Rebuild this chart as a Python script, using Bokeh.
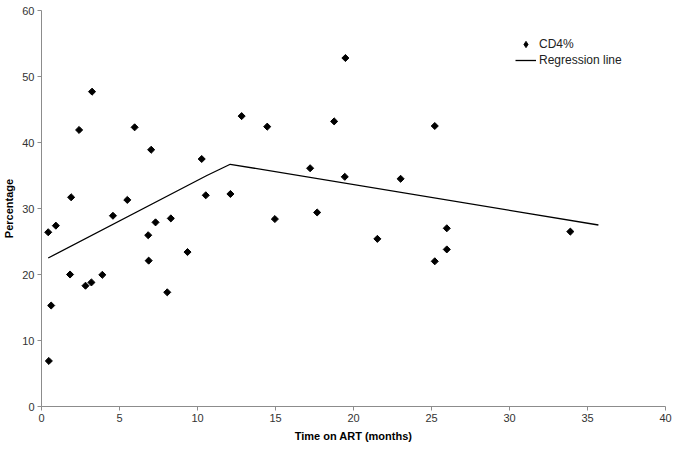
import math
from bokeh.plotting import figure
from bokeh.models import Range1d, FixedTicker, Legend, LegendItem
from bokeh.embed import file_html
from bokeh.resources import INLINE

# CD4% observations (time on ART in months, percentage)
time_months = [0.43, 0.92, 0.62, 0.47, 1.83, 2.82, 3.20, 3.90, 4.58, 5.50,
               6.84, 6.87, 7.31, 8.29, 8.06, 9.36, 1.90, 2.41, 3.24, 5.97,
               7.03, 10.27, 10.53, 12.11, 12.83, 14.47, 14.96, 17.22, 17.67, 18.76,
               19.48, 19.44, 21.53, 23.02, 25.21, 25.98, 25.98, 25.21, 33.90]
cd4_pct = [26.4, 27.4, 15.3, 6.9, 20.0, 18.3, 18.8, 19.95, 28.9, 31.3,
           25.95, 22.1, 27.9, 28.5, 17.3, 23.4, 31.7, 41.9, 47.7, 42.3,
           38.9, 37.5, 32.0, 32.2, 44.0, 42.4, 28.4, 36.1, 29.4, 43.2,
           52.8, 34.8, 25.4, 34.5, 42.5, 27.0, 23.8, 22.0, 26.5]

# Regression line (piecewise)
reg_x = [0.43, 10.6, 12.1, 35.7]
reg_y = [22.5, 35.0, 36.7, 27.5]

x_ticks = [0, 5, 10, 15, 20, 25, 30, 35, 40]
y_ticks = [0, 10, 20, 30, 40, 50, 60]

FONT = "Liberation Sans"

p = figure(width=685, height=450, output_backend="svg", toolbar_location=None,
           x_range=Range1d(0, 40), y_range=Range1d(0, 60),
           min_border_top=10, min_border_bottom=44, min_border_left=39, min_border_right=20)
p.outline_line_color = None
p.xgrid.visible = False
p.ygrid.visible = False
p.background_fill_color = "white"

r_pts = p.scatter(time_months, cd4_pct, marker="square", size=5, angle=math.pi / 4,
                  fill_color="black", line_color="black", line_width=1)
# legend-only proxy with a diamond glyph (not drawn in the plot: NaN position)
r_pts_legend = p.scatter(x=[float("nan")], y=[float("nan")], marker="diamond", size=8,
                         fill_color="black", line_color="black", line_width=0.8)
r_line = p.line(reg_x, reg_y, line_color="black", line_width=1.3)

for ax in (p.xaxis[0], p.yaxis[0]):
    ax.axis_line_color = "#8c8c8c"
    ax.major_tick_line_color = "#8c8c8c"
    ax.minor_tick_line_color = None
    ax.major_tick_in = 0
    ax.major_tick_out = 4
    ax.major_label_standoff = 3
    ax.major_label_text_font = FONT
    ax.major_label_text_font_size = "11px"
    ax.major_label_text_color = "#333333"
    ax.axis_label_text_font = FONT
    ax.axis_label_text_font_size = "11px"
    ax.axis_label_text_font_style = "bold"
    ax.axis_label_text_color = "black"
    ax.axis_label_standoff = 5

p.yaxis[0].axis_label_standoff = 4
p.xaxis[0].ticker = FixedTicker(ticks=x_ticks)
p.yaxis[0].ticker = FixedTicker(ticks=y_ticks)
p.xaxis[0].axis_label = "Time on ART (months)"
p.yaxis[0].axis_label = "Percentage"

legend = Legend(items=[LegendItem(label="CD4%", renderers=[r_pts_legend], index=0),
                       LegendItem(label="Regression line", renderers=[r_line])],
                location=(474, 338), padding=0, margin=0, spacing=0,
                glyph_width=21, glyph_height=16, label_height=16,
                label_standoff=3, label_text_font=FONT, label_text_font_size="12px",
                label_text_color="#222222",
                border_line_color=None, background_fill_alpha=0)
p.add_layout(legend)

open("out.html", "w").write(file_html(p, INLINE))
